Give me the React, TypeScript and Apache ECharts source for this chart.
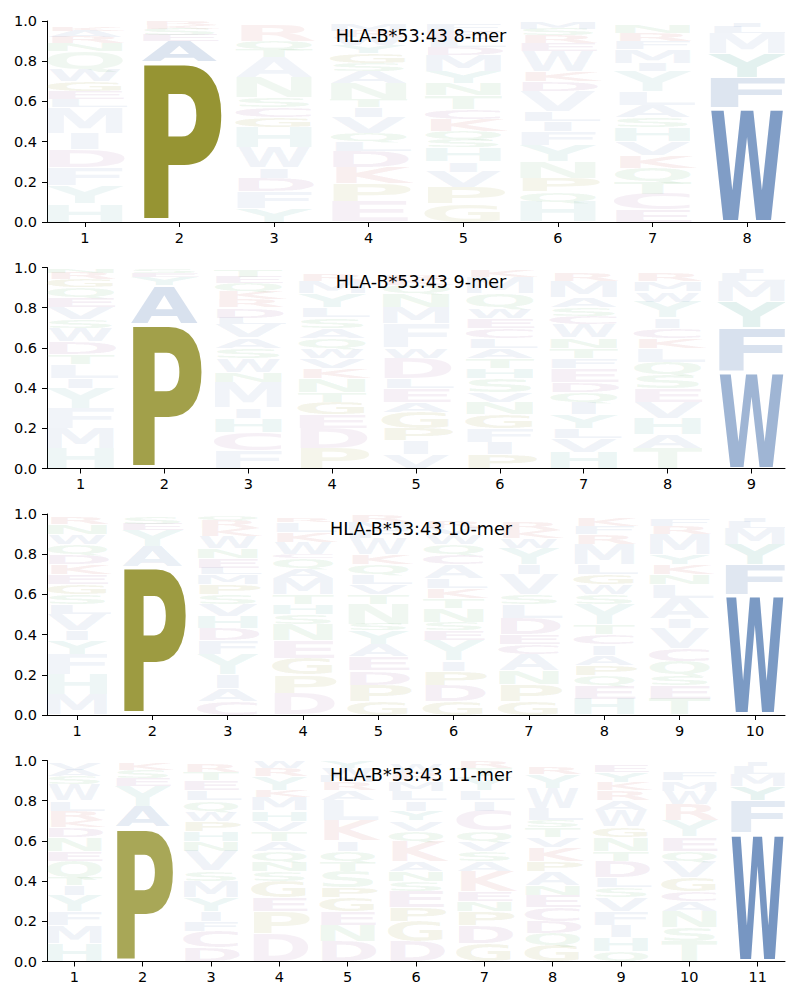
import React, { useEffect, useRef } from "react";
import * as echarts from "echarts";

type Entry = [string, number, number?];

const TITLES = ["HLA-B*53:43 8-mer", "HLA-B*53:43 9-mer", "HLA-B*53:43 10-mer", "HLA-B*53:43 11-mer"];
const Y_TICKS = [0, 0.2, 0.4, 0.6, 0.8, 1.0];

// Each column is stacked from bottom to top: [letter, height, alpha?]
const mer8: Entry[][] = [
  [["H", .09], ["Y", .09], ["F", .09], ["D", .09], ["I", .08], ["M", .13], ["L", .04], ["E", .04], ["G", .05], ["W", .06], ["Q", .09], ["N", .04], ["R", .03], ["A", .03], ["K", .02]],
  [["P", .80, .92], ["A", .10, .22], ["E", .03], ["S", .03], ["K", .02], ["R", .02]],
  [["Y", .07], ["F", .08], ["D", .07], ["I", .05], ["W", .10], ["H", .10], ["G", .05], ["C", .05], ["S", .05], ["N", .10], ["A", .10], ["T", .04], ["Q", .04], ["R", .08]],
  [["E", .10], ["P", .09], ["K", .08], ["D", .08], ["L", .05], ["Q", .04], ["V", .08], ["I", .05], ["T", .04], ["N", .08], ["A", .06], ["S", .04], ["G", .05], ["Y", .04], ["W", .04], ["R", .03], ["M", .03]],
  [["G", .09], ["P", .08], ["V", .08], ["I", .05], ["H", .07], ["S", .04], ["Q", .04], ["K", .06], ["C", .05], ["T", .07], ["N", .06], ["Y", .06], ["M", .08], ["D", .04], ["L", .04], ["E", .04], ["F", .03]],
  [["H", .10], ["Q", .05], ["P", .07], ["N", .08], ["Y", .08], ["F", .07], ["I", .05], ["L", .05], ["V", .10], ["D", .05], ["K", .05], ["W", .10], ["E", .04], ["R", .04], ["S", .03], ["M", .03]],
  [["E", .06], ["C", .08], ["T", .06], ["Q", .07], ["K", .06], ["V", .07], ["H", .07], ["S", .05], ["A", .06], ["L", .07], ["Y", .10], ["I", .04], ["M", .07], ["F", .04], ["R", .04], ["N", .04]],
  [["W", .57, .82], ["F", .15, .22], ["Y", .12, .15], ["M", .10], ["L", .03], ["I", .02]],
];

const mer9: Entry[][] = [
  [["H", .10], ["M", .10], ["F", .10], ["Y", .10], ["I", .05], ["L", .07], ["T", .05], ["D", .06], ["W", .07], ["S", .04], ["V", .06], ["E", .05], ["Q", .05], ["G", .04], ["R", .03], ["N", .02]],
  [["P", .72, .82], ["A", .19, .25], ["Y", .04], ["E", .02], ["S", .02]],
  [["F", .09], ["C", .09], ["H", .07], ["I", .05], ["M", .13], ["N", .05], ["W", .07], ["S", .05], ["A", .05], ["V", .07], ["L", .03], ["D", .05], ["R", .04], ["K", .04], ["Q", .04], ["E", .03], ["T", .03]],
  [["P", .10], ["D", .10], ["E", .07], ["G", .06], ["T", .05], ["N", .07], ["K", .05], ["V", .05], ["W", .05], ["Q", .05], ["A", .05], ["S", .05], ["L", .05], ["Y", .07], ["M", .06], ["R", .03]],
  [["V", .07], ["I", .07], ["P", .06], ["G", .08], ["A", .05], ["E", .07], ["L", .05], ["D", .10], ["W", .05], ["F", .12], ["M", .08], ["N", .07], ["Q", .04], ["K", .03], ["R", .02]],
  [["P", .07], ["I", .06], ["F", .07], ["G", .07], ["N", .06], ["V", .05], ["S", .07], ["H", .05], ["T", .05], ["A", .05], ["L", .05], ["C", .05], ["E", .05], ["W", .05], ["Q", .07], ["M", .08], ["K", .03]],
  [["H", .08], ["V", .07], ["L", .05], ["Y", .07], ["I", .06], ["Q", .05], ["D", .05], ["E", .07], ["F", .05], ["T", .05], ["N", .05], ["W", .07], ["C", .04], ["S", .04], ["A", .05], ["M", .08], ["R", .04]],
  [["T", .10], ["A", .07], ["H", .08], ["V", .08], ["E", .07], ["S", .07], ["Q", .06], ["L", .07], ["K", .05], ["C", .05], ["I", .05], ["Y", .08], ["W", .05], ["M", .05], ["R", .04]],
  [["W", .48, .62], ["F", .22, .25], ["Y", .13, .15], ["M", .10], ["L", .04], ["I", .02]],
];

const mer10: Entry[][] = [
  [["M", .10], ["H", .10], ["F", .10], ["Y", .07], ["I", .05], ["V", .08], ["L", .05], ["S", .05], ["G", .05], ["E", .05], ["K", .05], ["D", .05], ["Q", .05], ["W", .05], ["N", .05], ["R", .03]],
  [["P", .74, .86], ["A", .10, .15], ["Y", .08], ["E", .03], ["S", .03]],
  [["C", .07], ["A", .06], ["I", .07], ["Y", .10], ["F", .07], ["D", .06], ["H", .06], ["V", .06], ["S", .05], ["P", .05], ["M", .05], ["L", .03], ["E", .05], ["N", .05], ["W", .06], ["K", .04], ["R", .04], ["Q", .02]],
  [["D", .11], ["P", .09], ["G", .08], ["E", .09], ["N", .08], ["S", .05], ["H", .05], ["T", .05], ["M", .08], ["A", .05], ["Q", .05], ["C", .02], ["W", .06], ["K", .05], ["L", .05], ["R", .02]],
  [["G", .07], ["P", .08], ["D", .07], ["E", .07], ["A", .06], ["Y", .07], ["S", .03], ["N", .10], ["T", .05], ["V", .05], ["L", .05], ["Q", .05], ["K", .05], ["W", .08], ["F", .04], ["M", .04], ["R", .03]],
  [["G", .07], ["D", .08], ["P", .07], ["I", .05], ["Y", .10], ["E", .05], ["S", .04], ["N", .07], ["T", .05], ["K", .05], ["L", .05], ["A", .07], ["C", .05], ["Q", .05], ["W", .05], ["V", .03], ["R", .03]],
  [["G", .07], ["P", .08], ["N", .07], ["A", .08], ["C", .05], ["E", .05], ["D", .08], ["L", .07], ["S", .05], ["V", .10], ["I", .05], ["Y", .08], ["W", .05], ["K", .04], ["R", .04]],
  [["H", .08], ["E", .07], ["Q", .05], ["P", .05], ["A", .05], ["I", .05], ["C", .05], ["T", .05], ["Y", .10], ["S", .05], ["W", .05], ["G", .05], ["L", .05], ["M", .10], ["R", .05], ["F", .04], ["K", .04]],
  [["T", .08], ["E", .07], ["S", .05], ["Q", .07], ["C", .06], ["V", .10], ["I", .05], ["A", .10], ["L", .07], ["N", .05], ["K", .05], ["Y", .05], ["M", .10], ["R", .04], ["F", .03]],
  [["W", .60, .85], ["F", .15, .20], ["Y", .10, .12], ["M", .08], ["L", .03], ["I", .02]],
];

const mer11: Entry[][] = [
  [["H", .09], ["M", .09], ["F", .07], ["Y", .08], ["I", .05], ["T", .04], ["Q", .08], ["E", .05], ["N", .07], ["D", .05], ["K", .03], ["R", .05], ["L", .05], ["W", .08], ["S", .04], ["A", .03], ["V", .03]],
  [["P", .67, .76], ["A", .10, .16], ["Y", .10], ["E", .04], ["S", .04], ["K", .03]],
  [["D", .07], ["C", .08], ["F", .05], ["I", .05], ["Y", .07], ["M", .08], ["S", .05], ["V", .10], ["N", .05], ["H", .05], ["P", .05], ["W", .05], ["Q", .05], ["L", .05], ["E", .05], ["T", .04], ["R", .04]],
  [["D", .14], ["P", .11], ["E", .07], ["G", .08], ["S", .05], ["N", .05], ["Q", .05], ["A", .05], ["T", .05], ["V", .05], ["H", .05], ["M", .07], ["K", .03], ["Y", .07], ["R", .04], ["W", .03]],
  [["D", .10], ["N", .08], ["E", .07], ["G", .07], ["P", .05], ["S", .08], ["T", .05], ["Q", .05], ["I", .05], ["K", .10], ["L", .10], ["A", .05], ["R", .04], ["M", .03], ["W", .04], ["Y", .03]],
  [["D", .10], ["G", .10], ["P", .07], ["E", .08], ["S", .05], ["N", .05], ["A", .05], ["K", .10], ["Q", .05], ["V", .05], ["Y", .05], ["I", .05], ["L", .05], ["M", .05], ["R", .04], ["W", .04]],
  [["G", .09], ["D", .09], ["P", .07], ["N", .05], ["E", .05], ["K", .10], ["A", .05], ["S", .05], ["V", .05], ["Q", .05], ["C", .10], ["I", .05], ["L", .05], ["Y", .07], ["T", .04], ["R", .03]],
  [["G", .08], ["Q", .06], ["D", .06], ["C", .07], ["E", .06], ["N", .05], ["A", .07], ["P", .05], ["K", .07], ["V", .05], ["T", .05], ["S", .03], ["L", .06], ["W", .10], ["Y", .07], ["R", .03]],
  [["Q", .05], ["H", .07], ["I", .06], ["F", .07], ["V", .07], ["S", .05], ["L", .05], ["D", .08], ["T", .05], ["N", .07], ["G", .05], ["W", .08], ["A", .05], ["R", .05], ["K", .04], ["Y", .05], ["E", .03]],
  [["T", .10], ["S", .07], ["N", .08], ["A", .05], ["C", .05], ["G", .07], ["V", .08], ["Q", .05], ["E", .07], ["Y", .08], ["R", .08], ["W", .07], ["M", .05], ["F", .04]],
  [["W", .64, .88], ["F", .16, .18], ["Y", .07, .12], ["M", .06], ["L", .04], ["I", .02]],
];

const PANELS = [mer8, mer9, mer10, mer11];
const DEFAULT_ALPHA = 0.09;

const GROUP_COLOR: Record<string, number[]> = {
  blue: [100, 136, 186],
  olive: [141, 139, 34],
  teal: [70, 160, 150],
  purple: [150, 90, 150],
  red: [200, 90, 90],
  green: [90, 170, 100],
};
const LETTER_GROUP: Record<string, string> = {
  A: "blue", V: "blue", L: "blue", I: "blue", M: "blue", F: "blue", W: "blue",
  P: "olive", G: "olive",
  H: "teal", Y: "teal",
  D: "purple", E: "purple", C: "purple",
  K: "red", R: "red",
  N: "green", Q: "green", S: "green", T: "green",
};
// approximate ink widths (em) of DejaVu Sans Bold capitals
const INK: Record<string, number> = {
  A: .774, C: .62, D: .69, E: .52, F: .52, G: .70, H: .66, I: .19, K: .69, L: .51,
  M: .82, N: .66, P: .59, Q: .75, R: .68, S: .62, T: .66, V: .774, W: 1.103, Y: .724,
};
const CAP = 0.729;
const LETTERS = Object.keys(INK);

const GRID_TOPS = [21, 267.5, 514, 760.5];
const GRID_H = 201;
const GRID_LEFT = 47;
const GRID_W = 738;
const FONT = "DejaVu Sans";

function buildData(cols: Entry[][]) {
  const out: number[][] = [];
  cols.forEach((col, j) => {
    let y = 0;
    col.forEach(([l, h, a]) => {
      out.push([j + 1, y, y + h, LETTERS.indexOf(l), a ?? DEFAULT_ALPHA]);
      y += h;
    });
  });
  return out;
}

const renderItem = (params: any, api: any) => {
  const x = api.value(0);
  const y0 = api.value(1);
  const y1 = api.value(2);
  const letter = LETTERS[api.value(3)];
  const alpha = api.value(4);
  const p0 = api.coord([x - 0.4, y0]);
  const p1 = api.coord([x + 0.4, y1]);
  const bw = p1[0] - p0[0];
  const bh = p0[1] - p1[1];
  const gh = bh * 0.95;
  const F = 100;
  const sxE = bw / (INK.E * F);
  let sx = bw / (INK[letter] * F);
  if (sx > sxE) sx = sxE;
  const sy = gh / (CAP * F);
  const cx = (p0[0] + p1[0]) / 2;
  const cy = (p0[1] + p1[1]) / 2;
  const c = GROUP_COLOR[LETTER_GROUP[letter]];
  return {
    type: "text",
    x: cx,
    y: cy + 0.0254 * gh,
    scaleX: sx,
    scaleY: sy,
    style: {
      text: letter,
      x: 0,
      y: 0,
      fill: `rgba(${c[0]},${c[1]},${c[2]},${alpha})`,
      fontSize: F,
      fontFamily: FONT,
      fontWeight: "bold",
      align: "center",
      verticalAlign: "middle",
      textAlign: "center",
      textVerticalAlign: "middle",
    },
  };
};

export default function App() {
  const ref = useRef<HTMLDivElement>(null);
  useEffect(() => {
    if (!ref.current) return;
    const chart = echarts.init(ref.current, null, { renderer: "svg" });
    const axisText = { color: "#000", fontSize: 14.5, fontFamily: FONT };
    const grid = PANELS.map((_, i) => ({ left: GRID_LEFT, top: GRID_TOPS[i], width: GRID_W, height: GRID_H }));
    const xAxis = PANELS.map((cols, i) => {
      const ticks = cols.map((_, j) => j + 1);
      return {
        gridIndex: i,
        type: "value",
        min: 0.6,
        max: cols.length + 0.4,
        axisLine: { show: true, onZero: false, lineStyle: { color: "#000", width: 1 } },
        axisTick: { show: true, customValues: ticks, length: 5, lineStyle: { color: "#000", width: 1 } },
        axisLabel: { show: true, customValues: ticks, margin: 8, ...axisText },
        splitLine: { show: false },
      };
    });
    const yAxis = PANELS.map((_, i) => ({
      gridIndex: i,
      type: "value",
      min: Y_TICKS[0],
      max: Y_TICKS[Y_TICKS.length - 1],
      interval: 0.2,
      axisLine: { show: true, lineStyle: { color: "#000", width: 1 } },
      axisTick: { show: true, length: 5, lineStyle: { color: "#000", width: 1 } },
      axisLabel: { show: true, margin: 10, formatter: (v: number) => v.toFixed(1), ...axisText },
      splitLine: { show: false },
    }));
    const title = TITLES.map((t, i) => ({
      text: t,
      left: GRID_LEFT + GRID_W / 2,
      top: GRID_TOPS[i] + 0.5,
      textAlign: "center",
      textStyle: { color: "#000", fontSize: 17.6, fontWeight: "normal", fontFamily: FONT },
    }));
    const series = PANELS.map((cols, i) => ({
      type: "custom",
      xAxisIndex: i,
      yAxisIndex: i,
      clip: true,
      encode: { x: 0, y: [1, 2] },
      renderItem,
      data: buildData(cols),
    }));
    chart.setOption({ animation: false, title, grid, xAxis, yAxis, series });
    return () => chart.dispose();
  }, []);
  return <div ref={ref} style={{ position: "absolute", left: 0, top: 0, width: 800, height: 1000 }} />;
}
